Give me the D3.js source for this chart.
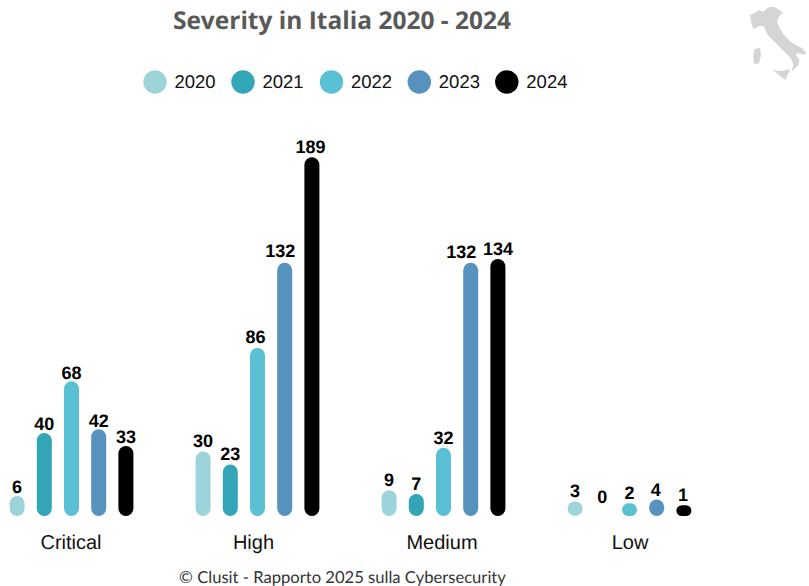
<!DOCTYPE html>
<html><head><meta charset="utf-8">
<script src="https://cdn.jsdelivr.net/npm/d3@7"></script>
<style>html,body{margin:0;padding:0;background:#fff}svg{display:block;text-rendering:geometricPrecision}</style>
</head><body><svg id="c" width="809" height="586"></svg>
<script>
const categories = ["Critical","High","Medium","Low"];
const years = ["2020","2021","2022","2023","2024"];
const colors = ["#9dd4da","#32a5b7","#5ac1d5","#5792bf","#000000"];
const v2020 = [6,30,9,3];
const v2021 = [40,23,7,0];
const v2022 = [68,86,32,2];
const v2023 = [42,132,132,4];
const v2024 = [33,189,134,1];
const seriesValues = [v2020,v2021,v2022,v2023,v2024];

const svg = d3.select("#c");
const SANS = "'Liberation Sans',Arial,sans-serif";
const barW = 15, cap = 9;
const x0 = d3.scaleBand().domain(categories).range([-21.5,722.5]);
const x1 = d3.scaleBand().domain(years).range([0,136]);
const y = d3.scaleLinear().domain([0,189]).range([507,157.3]);

// label layout adjustments
const labelLift = [2.5,4.5,4,4];
const catLabelShift = [-0.5,-4,-1.5,0.5];
function labelDx(d,ci){ if(d.v===132) return ci===2?-9.5:-4.5; if(d.v===86) return -2; if(d.v===189) return -1.5; if(ci===3&&d.i>=3) return -1; return 0; }

svg.append("text").attr("x",342).attr("y",29).attr("text-anchor","middle")
  .attr("font-family","'Open Sans',sans-serif").attr("font-weight",700).attr("font-size",24.5)
  .attr("fill","#595959").text("Severity in Italia 2020 - 2024");

// Italy icon
const mainland = [[15,45],[30,38],[42,30],[55,35],[70,22],[85,20],[95,25],[115,38],[105,45],[100,55],[97,65],[102,80],[117,105],[137,125],[152,135],[172,145],[185,160],[175,165],[160,158],[152,165],[164,180],[160,195],[150,205],[140,215],[145,195],[138,175],[118,155],[93,130],[73,110],[63,95],[58,80],[45,77],[25,87],[18,65]];
const sardinia = [[28,148],[45,143],[48,165],[42,190],[28,192],[25,170]];
const sicily = [[85,210],[110,213],[135,208],[128,225],[122,240],[105,228]];
const iconLine = d3.line().x(p=>745+p[0]/3).y(p=>p[1]/3).curve(d3.curveLinearClosed);
svg.append("g").attr("fill","#d4d6d6").selectAll("path").data([mainland,sardinia,sicily]).join("path").attr("d",iconLine);

// legend
const legendX = [155,243,331.5,419.3,506.8];
const lg = svg.append("g").selectAll("g").data(years).join("g")
  .attr("transform",(d,i)=>`translate(${legendX[i]},82)`);
lg.append("circle").attr("r",11.7).attr("fill",(d,i)=>colors[i]);
lg.append("text").attr("x",19.5).attr("y",6).attr("font-family",SANS).attr("font-size",18.5).attr("fill","#111").text(d=>d);

// bars
const groups = svg.append("g").selectAll("g").data(categories).join("g")
  .attr("transform",c=>`translate(${x0(c)+(x0.bandwidth()-136)/2},0)`);
groups.each(function(c,ci){
  const g = d3.select(this);
  const rows = years.map((yr,i)=>({yr,i,v:seriesValues[i][ci]}));
  const h = d=>y(0)+cap-y(d.v);
  g.selectAll("rect").data(rows.filter(d=>d.v>0)).join("rect")
    .attr("x",d=>x1(d.yr)+x1.bandwidth()/2-barW/2)
    .attr("y",d=>y(d.v))
    .attr("width",barW)
    .attr("height",h)
    .attr("rx",d=>Math.min(7.5,h(d)/2)).attr("ry",d=>Math.min(7.5,h(d)/2))
    .attr("fill",d=>colors[d.i]);
  g.selectAll("text").data(rows).join("text")
    .attr("x",d=>x1(d.yr)+x1.bandwidth()/2+labelDx(d,ci))
    .attr("y",d=>y(d.v)-labelLift[ci]-(d.v===132?1:0))
    .attr("text-anchor","middle").attr("font-family",SANS).attr("font-weight",700)
    .attr("font-size",18).attr("fill","#000").text(d=>d.v);
});

// category labels
svg.append("g").selectAll("text").data(categories).join("text")
  .attr("x",(c,i)=>x0(c)+x0.bandwidth()/2+catLabelShift[i]).attr("y",548.5).attr("text-anchor","middle")
  .attr("font-family",SANS).attr("font-size",20).attr("fill","#111").text(c=>c);

svg.append("text").attr("x",342.5).attr("y",582.5).attr("text-anchor","middle")
  .attr("font-family","Lato,sans-serif").attr("font-size",16.6).attr("fill","#333")
  .text("© Clusit - Rapporto 2025 sulla Cybersecurity");
</script></body></html>
